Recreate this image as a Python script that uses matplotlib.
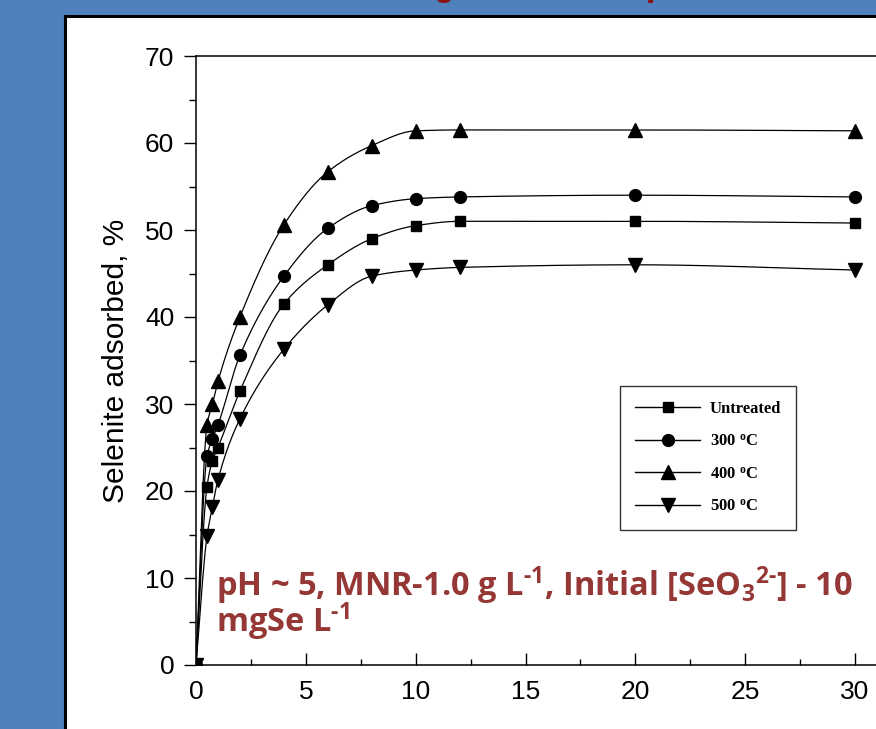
import numpy as np
import matplotlib
matplotlib.use("Agg")
from matplotlib import pyplot as plt
from matplotlib.patches import Rectangle
from matplotlib.lines import Line2D

# Contact time (h) and selenite adsorbed (%) for each sample
time_h = [0, 0.5, 0.75, 1, 2, 4, 6, 8, 10, 12, 20, 30]
untreated = [0, 20.5, 23.5, 25.0, 31.5, 41.5, 46.0, 49.0, 50.5, 51.0, 51.0, 50.8]
treated_300 = [0, 24.0, 26.0, 27.6, 35.6, 44.7, 50.2, 52.8, 53.6, 53.8, 54.0, 53.8]
treated_400 = [0, 27.6, 30.0, 32.6, 40.0, 50.6, 56.7, 59.7, 61.4, 61.5, 61.5, 61.4]
treated_500 = [0, 14.8, 18.2, 21.3, 28.3, 36.3, 41.4, 44.7, 45.4, 45.7, 46.0, 45.4]

series_labels = ["Untreated", "300 $^{\\mathbf{o}}$C", "400 $^{\\mathbf{o}}$C", "500 $^{\\mathbf{o}}$C"]
series_markers = ["s", "o", "^", "v"]
series_sizes = [7.5, 8.5, 10, 10]

y_ticks = [0, 10, 20, 30, 40, 50, 60, 70]
x_ticks = [0, 5, 10, 15, 20, 25, 30]

plt.rcParams['mathtext.fontset'] = 'custom'
plt.rcParams['mathtext.rm'] = 'Open Sans:bold'
plt.rcParams['mathtext.bf'] = 'Liberation Serif:bold'
plt.rcParams['mathtext.default'] = 'regular'


def pchip(x, y, xs):
    # monotone cubic hermite curve through the points
    x = np.asarray(x, float)
    y = np.asarray(y, float)
    h = np.diff(x)
    d = np.diff(y) / h
    m = np.zeros_like(y)
    for k in range(1, len(x) - 1):
        if d[k - 1] * d[k] > 0:
            w1 = 2 * h[k] + h[k - 1]
            w2 = h[k] + 2 * h[k - 1]
            m[k] = (w1 + w2) / (w1 / d[k - 1] + w2 / d[k])
    m[0] = d[0]
    m[-1] = d[-1]
    idx = np.clip(np.searchsorted(x, xs) - 1, 0, len(x) - 2)
    t = (xs - x[idx]) / h[idx]
    h00 = 2 * t**3 - 3 * t**2 + 1
    h10 = t**3 - 2 * t**2 + t
    h01 = -2 * t**3 + 3 * t**2
    h11 = t**3 - t**2
    return h00 * y[idx] + h10 * h[idx] * m[idx] + h01 * y[idx + 1] + h11 * h[idx] * m[idx + 1]


fig = plt.figure(figsize=(8.76, 7.29), dpi=100)
fig.patch.set_facecolor('#4F81BD')

# white slide panel with black border
fig.add_artist(Rectangle((65 / 876, -0.1), 1.2, 1.1 - 16.5 / 729,
                         transform=fig.transFigure, facecolor='white',
                         edgecolor='black', lw=2.2, zorder=0))

# slide heading, mostly above the visible area
fig.text(72 / 876, 1 + 5 / 729, "KMnO\u2084 then heating versus uptake",
         family=['Liberation Mono', 'DejaVu Sans Mono'], weight='bold',
         fontsize=25.6, color='#8B1010', va='baseline', ha='left')

ax = fig.add_axes([196 / 876, 64 / 729, 32 * 21.97 / 876, 609 / 729])
ax.set_xlim(0, 32)
ax.set_ylim(0, 70)

xs = np.linspace(0, 30, 600)
for vals, mk, ms in zip([untreated, treated_300, treated_400, treated_500],
                        series_markers, series_sizes):
    ax.plot(xs, pchip(time_h, vals, xs), color='black', lw=0.9)
    ax.plot(time_h, vals, linestyle='none', marker=mk, ms=ms, color='black')

ax.set_yticks(y_ticks)
ax.set_yticks(np.arange(5, 70, 10), minor=True)
ax.set_xticks(x_ticks)
ax.set_xticks(np.arange(2.5, 32, 5), minor=True)
ax.tick_params(axis='y', which='major', direction='out', length=8.6, width=1,
               labelsize=19, pad=7)
ax.tick_params(axis='y', which='minor', direction='out', length=5, width=1)
ax.tick_params(axis='x', which='major', direction='in', length=8.6, width=1,
               labelsize=19, pad=11)
ax.tick_params(axis='x', which='minor', direction='in', length=4.5, width=1)
for lab in ax.get_xticklabels() + ax.get_yticklabels():
    lab.set_family('Liberation Sans')
for sp in ax.spines.values():
    sp.set_linewidth(1.1)

ax.set_ylabel("Selenite adsorbed, %", fontsize=21.5, family='Liberation Sans',
              labelpad=11)

handles = [Line2D([], [], color='black', lw=1, marker=mk, ms=ms)
           for mk, ms in zip(series_markers, series_sizes)]
leg = fig.legend(handles, series_labels, loc='upper left',
                 bbox_to_anchor=(620 / 876, 1 - 386 / 729),
                 bbox_transform=fig.transFigure, borderaxespad=0,
                 frameon=True, fancybox=False, handlelength=3.9,
                 labelspacing=1.0, borderpad=0.9, handletextpad=0.6,
                 prop={'family': 'Liberation Serif', 'weight': 'bold', 'size': 12})
leg.get_frame().set_edgecolor('black')
leg.get_frame().set_linewidth(1)

# experimental conditions, two lines
note_style = dict(family='Open Sans', weight='bold', fontsize=23.5,
                  color='#953735', va='baseline', ha='left')
fig.text(216 / 876, 1 - 596 / 729,
         "pH ~ 5, MNR-1.0 g L$^{\\text{-1}}$, Initial [SeO$_3$$^{\\text{2-}}$] - 10",
         **note_style)
fig.text(216 / 876, 1 - 632 / 729, "mgSe L$^{\\text{-1}}$", **note_style)

fig.savefig("out.png", dpi=100, facecolor=fig.get_facecolor())
